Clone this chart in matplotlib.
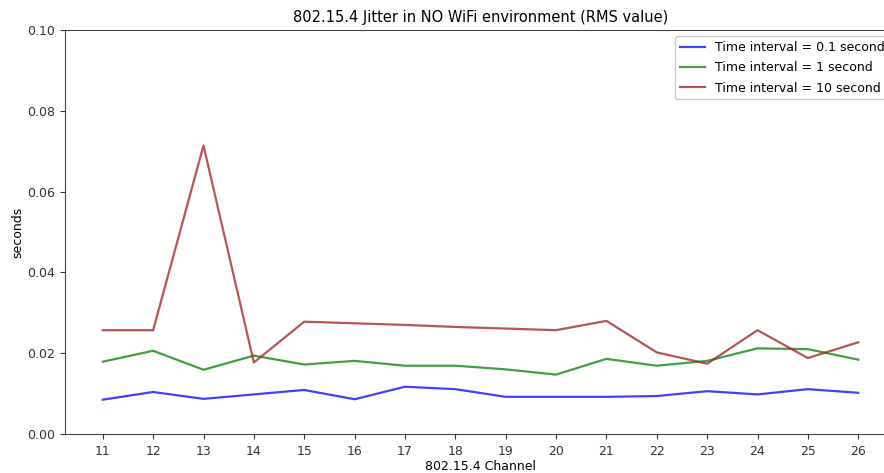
import matplotlib
matplotlib.use("Agg")
import matplotlib.pyplot as plt

channels = list(range(11, 27))
jitter_01s = [0.0085, 0.0104, 0.0087, 0.0098, 0.0109, 0.0086, 0.0117, 0.0111,
              0.0092, 0.0092, 0.0092, 0.0094, 0.0106, 0.0098, 0.0111, 0.0102]
jitter_1s = [0.0179, 0.0206, 0.0159, 0.0194, 0.0172, 0.0181, 0.0169, 0.0169,
             0.0160, 0.0147, 0.0186, 0.0169, 0.0181, 0.0212, 0.0210, 0.0184]
jitter_10s = [0.0257, 0.0257, 0.0714, 0.0177, 0.0278, 0.0274, 0.0270, 0.0265,
              0.0261, 0.0257, 0.0280, 0.0202, 0.0174, 0.0257, 0.0188, 0.0227]
labels = ["Time interval = 0.1 second", "Time interval = 1 second",
          "Time interval = 10 second"]

fig = plt.figure(figsize=(8.84, 4.73), dpi=100)
ax = fig.add_axes([65/884, 39/473, (896-65)/884, 404/473])

ax.plot(channels, jitter_01s, color="blue", alpha=0.75, lw=1.6, label=labels[0])
ax.plot(channels, jitter_1s, color="green", alpha=0.75, lw=1.6, label=labels[1])
ax.plot(channels, jitter_10s, color="brown", alpha=0.8, lw=1.6, label=labels[2])

ax.set_ylim(0, 0.10)
ax.set_yticks([0.0, 0.02, 0.04, 0.06, 0.08, 0.10])
ax.set_yticklabels(["0.00", "0.02", "0.04", "0.06", "0.08", "0.10"])
ax.set_xticks(channels)
ax.tick_params(labelsize=9, colors="#333333")
ax.tick_params(axis="x", pad=4.5)
for s in ax.spines.values():
    s.set_color("#444444")
ax.set_title("802.15.4 Jitter in NO WiFi environment (RMS value)", fontsize=10.5, pad=6)
ax.set_xlabel("802.15.4 Channel", fontsize=9, labelpad=1)
ax.set_ylabel("seconds", fontsize=9, labelpad=2)
ax.legend(loc="upper right", fontsize=9, framealpha=1, borderaxespad=0.5,
          labelspacing=0.57)

fig.savefig("out.png", dpi=100)
